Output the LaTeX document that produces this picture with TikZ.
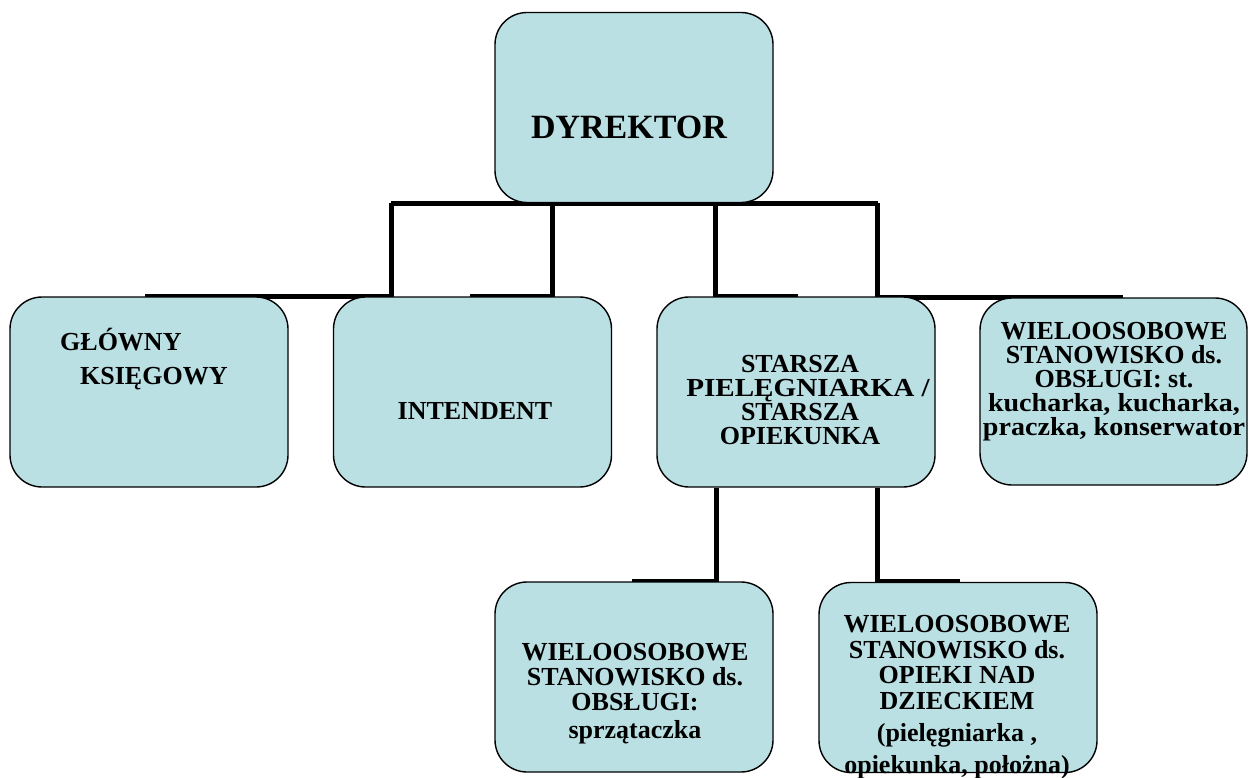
\documentclass[tikz,border=0pt]{standalone}
\usepackage{fontspec}
\setmainfont{Liberation Serif}
\usepackage{graphicx}
\usepackage{tikz}
\usetikzlibrary{positioning,backgrounds}
\definecolor{boxblue}{RGB}{186,224,228}
\tikzset{
  box/.style={draw, line width=1.4pt, fill=boxblue, rounded corners=32pt,
    minimum width=278pt, minimum height=190pt, inner sep=0pt},
  txt/.style={font=\fontsize{26pt}{#1}\selectfont\bfseries, align=center, inner sep=0pt},
  txt/.default=24pt,
  conn/.style={line width=5pt}
}

\begin{document}
\begin{tikzpicture}[x=1pt,y=-1pt]
\useasboundingbox (0,0) rectangle (1249,778);

\node[box] (dyrektor) at (634,107.5) {};
\node[box] (ksiegowy) at (149,392) {};
\node[box] (intendent) at (472.5,392) {};
\node[box] (starsza) at (796,392) {};
\node[box, minimum width=267pt, minimum height=187pt] (obsluga) at (1113.5,391.5) {};
\node[box] (sprzataczka) at (634,677) {};
\node[box] (opieka) at (958,677.5) {};

\node[txt, font=\fontsize{34pt}{36pt}\selectfont\bfseries] (dyrektortxt) at (629,127) {DYREKTOR};
\node[txt=34pt, align=left, anchor=west] (ksiegowytxt) at (60,359)
  {GŁÓWNY\\\hspace*{20pt}KSIĘGOWY};
\node[txt] (intendenttxt) at (475,411) {INTENDENT};
\node[txt] (starszatxt) at (800,400)
  {STARSZA\\\hspace*{16pt}\scalebox{1.12}[1]{PIELĘGNIARKA /}\\STARSZA\\OPIEKUNKA};
\node[txt] (obslugatxt) at (1114,381.5)
  {WIELOOSOBOWE\\STANOWISKO ds.\\OBSŁUGI: st.\\\scalebox{1.08}[1]{kucharka, kucharka,}\\\scalebox{1.08}[1]{praczka, konserwator}};
\node[txt=25pt] (sprzataczkatxt) at (635,694)
  {WIELOOSOBOWE\\STANOWISKO ds.\\OBSŁUGI:\\[3pt]sprzątaczka};
\node[txt=25.5pt] (opiekatxt) at (957,697)
  {WIELOOSOBOWE\\STANOWISKO ds.\\OPIEKI NAD\\DZIECKIEM\\[7pt](pielęgniarka ,\\[6pt]opiekunka, położna)};

\begin{pgfonlayer}{background}
\draw[conn] ([xshift=-103pt]dyrektor.south west) -- ([xshift=104pt]dyrektor.south east);
\draw[conn] ([xshift=-103pt]dyrektor.south west) |- ([xshift=136pt]ksiegowy.north west);
\draw[conn] ([xshift=58pt]dyrektor.south west) |- ([xshift=-3pt]intendent.north);
\draw[conn] ([xshift=-58pt]dyrektor.south east) |- ([xshift=2pt]starsza.north);
\draw[conn] ([xshift=104pt]dyrektor.south east) |- ([xshift=9.5pt]obsluga.north);
\draw[conn] ([xshift=-80pt]starsza.south) |- ([xshift=-2pt]sprzataczka.north);
\draw[conn] ([xshift=81pt]starsza.south) |- ([xshift=2pt]opieka.north);
\end{pgfonlayer}
\end{tikzpicture}
\end{document}
